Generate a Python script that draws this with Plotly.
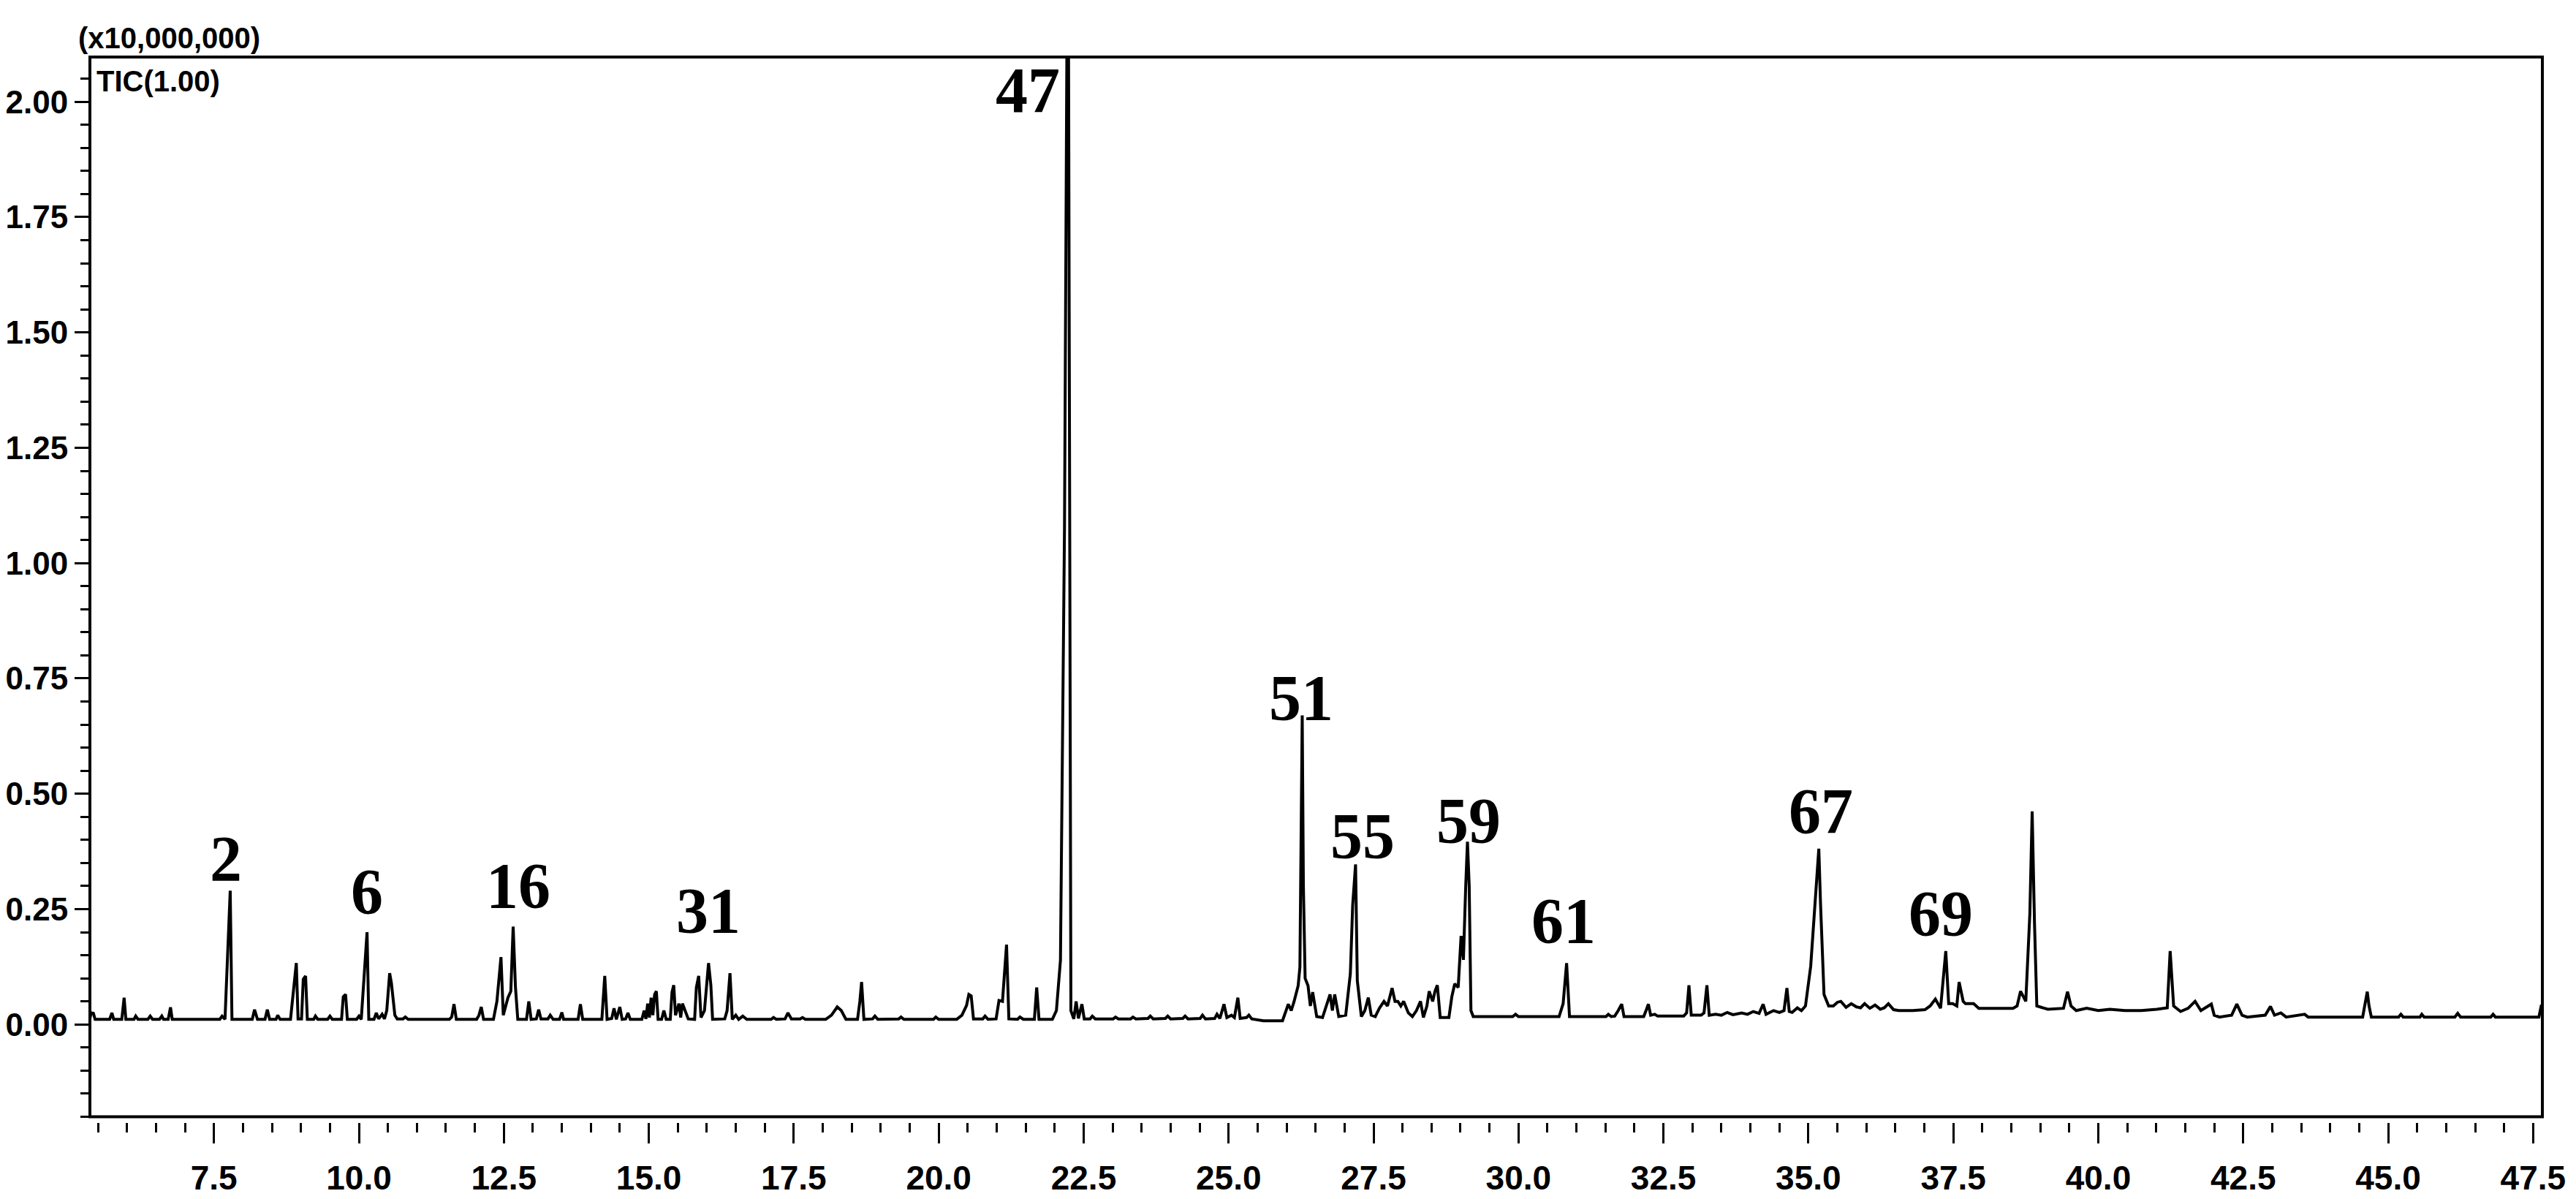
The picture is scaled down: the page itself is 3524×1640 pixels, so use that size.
import plotly.graph_objects as go

# ---- data (retention time [min], TIC intensity [x10,000,000]) ----
trace_5_to_11 = [
    (5.36, 0.012), (5.38, 0.025), (5.42, 0.024), (5.45, 0.011),
    (5.70, 0.011), (5.74, 0.025), (5.77, 0.011),
    (5.91, 0.011), (5.95, 0.058), (5.98, 0.011),
    (6.12, 0.011), (6.15, 0.018), (6.19, 0.011),
    (6.36, 0.011), (6.40, 0.018), (6.44, 0.011),
    (6.56, 0.011), (6.60, 0.018), (6.63, 0.011),
    (6.71, 0.011), (6.75, 0.037), (6.78, 0.011),
    (7.60, 0.011), (7.64, 0.018), (7.69, 0.011), (7.74, 0.19), (7.78, 0.29), (7.81, 0.011),
    (8.16, 0.011), (8.20, 0.032), (8.25, 0.011),
    (8.38, 0.011), (8.42, 0.032), (8.46, 0.011),
    (8.57, 0.011), (8.60, 0.020), (8.64, 0.011),
    (8.82, 0.011), (8.86, 0.058), (8.92, 0.133), (8.95, 0.012),
    (9.01, 0.012), (9.04, 0.098), (9.08, 0.105), (9.11, 0.011),
    (9.22, 0.011), (9.25, 0.018), (9.29, 0.011),
    (9.46, 0.011), (9.50, 0.018), (9.54, 0.011),
    (9.70, 0.011), (9.73, 0.060), (9.77, 0.065), (9.80, 0.011),
    (9.96, 0.011), (10.00, 0.018), (10.04, 0.011), (10.09, 0.105), (10.14, 0.20), (10.17, 0.011),
    (10.26, 0.011), (10.30, 0.025), (10.34, 0.012), (10.40, 0.022), (10.44, 0.012),
    (10.48, 0.030), (10.53, 0.111), (10.56, 0.090), (10.59, 0.055), (10.62, 0.020), (10.66, 0.012),
    (10.76, 0.012), (10.80, 0.016), (10.85, 0.011),
]

trace_11_to_19 = [
    (11.56, 0.011), (11.60, 0.016), (11.64, 0.044), (11.68, 0.011),
    (12.03, 0.011), (12.07, 0.020), (12.11, 0.038), (12.15, 0.011),
    (12.32, 0.011), (12.38, 0.050), (12.45, 0.146), (12.49, 0.020), (12.57, 0.058), (12.62, 0.072),
    (12.66, 0.212), (12.70, 0.080), (12.74, 0.011),
    (12.89, 0.011), (12.93, 0.050), (12.97, 0.011),
    (13.06, 0.012), (13.10, 0.032), (13.14, 0.012),
    (13.26, 0.012), (13.30, 0.020), (13.35, 0.011),
    (13.46, 0.011), (13.50, 0.026), (13.53, 0.011),
    (13.78, 0.011), (13.82, 0.044), (13.86, 0.011),
    (14.19, 0.011), (14.24, 0.105), (14.28, 0.011),
    (14.36, 0.013), (14.40, 0.035), (14.44, 0.011), (14.50, 0.038), (14.54, 0.011),
    (14.60, 0.012), (14.64, 0.025), (14.68, 0.011),
    (14.88, 0.011), (14.92, 0.030), (14.95, 0.012), (14.98, 0.045), (15.01, 0.015),
    (15.04, 0.058), (15.07, 0.020), (15.10, 0.065), (15.13, 0.072), (15.16, 0.011),
    (15.22, 0.011), (15.26, 0.030), (15.30, 0.011),
    (15.37, 0.011), (15.40, 0.070), (15.43, 0.085), (15.46, 0.020), (15.52, 0.045), (15.55, 0.015),
    (15.58, 0.045), (15.63, 0.030), (15.68, 0.012),
    (15.79, 0.011), (15.82, 0.080), (15.86, 0.105), (15.90, 0.015), (15.96, 0.030), (16.00, 0.080),
    (16.03, 0.133), (16.07, 0.085), (16.10, 0.011),
    (16.31, 0.012), (16.35, 0.030), (16.40, 0.111), (16.44, 0.011),
    (16.50, 0.020), (16.55, 0.011), (16.62, 0.018), (16.69, 0.011),
    (17.11, 0.011), (17.15, 0.015), (17.20, 0.011),
    (17.35, 0.012), (17.40, 0.025), (17.46, 0.012),
    (17.61, 0.012), (17.65, 0.015), (17.70, 0.011),
    (18.05, 0.011), (18.15, 0.020), (18.25, 0.038), (18.32, 0.030), (18.40, 0.011),
    (18.60, 0.011), (18.64, 0.050), (18.67, 0.092), (18.71, 0.011),
]

trace_19_to_26 = [
    (18.86, 0.012), (18.90, 0.018), (18.95, 0.011),
    (19.31, 0.012), (19.35, 0.016), (19.40, 0.011),
    (19.91, 0.011), (19.95, 0.016), (20.00, 0.011),
    (20.31, 0.011), (20.40, 0.020), (20.48, 0.041), (20.52, 0.065), (20.56, 0.062), (20.60, 0.012),
    (20.76, 0.012), (20.80, 0.018), (20.85, 0.011),
    (20.99, 0.012), (21.04, 0.052), (21.10, 0.050), (21.17, 0.173), (21.21, 0.012),
    (21.36, 0.011), (21.40, 0.016), (21.46, 0.011),
    (21.65, 0.011), (21.69, 0.080), (21.73, 0.011),
    (21.96, 0.011), (22.03, 0.030), (22.10, 0.139), (22.17, 1.08), (22.23, 2.60), (22.28, 0.030),
    (22.33, 0.012), (22.37, 0.050), (22.41, 0.013), (22.47, 0.044), (22.51, 0.012),
    (22.61, 0.012), (22.65, 0.018), (22.70, 0.012),
    (23.01, 0.012), (23.05, 0.016), (23.10, 0.012),
    (23.31, 0.012), (23.35, 0.016), (23.40, 0.012),
    (23.61, 0.013), (23.65, 0.018), (23.70, 0.012),
    (23.91, 0.013), (23.95, 0.018), (24.00, 0.012),
    (24.21, 0.013), (24.25, 0.018), (24.30, 0.012),
    (24.51, 0.013), (24.55, 0.020), (24.60, 0.012),
    (24.76, 0.013), (24.80, 0.022), (24.85, 0.013), (24.92, 0.044), (24.97, 0.015),
    (25.05, 0.020), (25.10, 0.015), (25.16, 0.058), (25.20, 0.013),
    (25.31, 0.015), (25.35, 0.020), (25.40, 0.012),
    (25.60, 0.008), (25.80, 0.008), (25.93, 0.008),
]

trace_26_to_29 = [
    (26.03, 0.044), (26.08, 0.030), (26.13, 0.050), (26.20, 0.084), (26.23, 0.124), (26.25, 0.47),
    (26.27, 0.67), (26.29, 0.30), (26.32, 0.100), (26.37, 0.084), (26.41, 0.040), (26.45, 0.070),
    (26.52, 0.017),
    (26.62, 0.015), (26.68, 0.040), (26.75, 0.065), (26.79, 0.030), (26.83, 0.065), (26.90, 0.017),
    (27.02, 0.020), (27.10, 0.110), (27.14, 0.258), (27.19, 0.347), (27.22, 0.095), (27.29, 0.017),
    (27.35, 0.030), (27.41, 0.058), (27.46, 0.020), (27.53, 0.017),
    (27.60, 0.035), (27.68, 0.050), (27.74, 0.040), (27.82, 0.079), (27.87, 0.050), (27.92, 0.050),
    (27.97, 0.040), (28.02, 0.050), (28.10, 0.025), (28.17, 0.017),
    (28.24, 0.030), (28.31, 0.050), (28.36, 0.015),
    (28.42, 0.040), (28.46, 0.072), (28.52, 0.050), (28.56, 0.072), (28.60, 0.085), (28.65, 0.015),
    (28.80, 0.015), (28.85, 0.060), (28.90, 0.088), (28.96, 0.080), (29.01, 0.192), (29.05, 0.140),
    (29.09, 0.300), (29.12, 0.396), (29.15, 0.300), (29.18, 0.030), (29.22, 0.017),
]

trace_29_to_35 = [
    (29.90, 0.017), (29.95, 0.022), (30.00, 0.017),
    (30.70, 0.017), (30.77, 0.045), (30.83, 0.133), (30.88, 0.017),
    (31.51, 0.017), (31.55, 0.022), (31.60, 0.017), (31.66, 0.018), (31.72, 0.030), (31.78, 0.044),
    (31.82, 0.017),
    (32.16, 0.017), (32.20, 0.030), (32.24, 0.044), (32.28, 0.020), (32.35, 0.022), (32.40, 0.018),
    (32.85, 0.018), (32.90, 0.025), (32.94, 0.085), (32.98, 0.020),
    (33.15, 0.020), (33.20, 0.025), (33.25, 0.085), (33.29, 0.020),
    (33.40, 0.022), (33.50, 0.020), (33.60, 0.026), (33.70, 0.021), (33.85, 0.025), (33.95, 0.022),
    (34.05, 0.028), (34.15, 0.024), (34.22, 0.044), (34.27, 0.022), (34.40, 0.030), (34.50, 0.026),
]

trace_35_to_48 = [
    (34.58, 0.030), (34.63, 0.079), (34.67, 0.028), (34.72, 0.026), (34.81, 0.036), (34.88, 0.030),
    (34.95, 0.040), (35.04, 0.126), (35.13, 0.306), (35.18, 0.381), (35.21, 0.260), (35.27, 0.065),
    (35.35, 0.040), (35.43, 0.040), (35.50, 0.048), (35.56, 0.050), (35.65, 0.037), (35.74, 0.045),
    (35.83, 0.038), (35.90, 0.036), (35.97, 0.045), (36.06, 0.035), (36.15, 0.042), (36.24, 0.033),
    (36.31, 0.036), (36.38, 0.045), (36.47, 0.032), (36.56, 0.030), (36.80, 0.030), (37.01, 0.032),
    (37.10, 0.040), (37.19, 0.055), (37.28, 0.035), (37.33, 0.113), (37.37, 0.159), (37.42, 0.045),
    (37.49, 0.045), (37.56, 0.040), (37.60, 0.092), (37.67, 0.050), (37.71, 0.045), (37.85, 0.045),
    (37.94, 0.035), (38.53, 0.035), (38.60, 0.040), (38.66, 0.072), (38.75, 0.050), (38.82, 0.240),
    (38.86, 0.462), (38.90, 0.220), (38.94, 0.040),
    (39.13, 0.033), (39.40, 0.035), (39.47, 0.071), (39.53, 0.040), (39.62, 0.030), (39.80, 0.035),
    (40.00, 0.030), (40.20, 0.033), (40.46, 0.030), (40.74, 0.030), (41.01, 0.033), (41.19, 0.036),
    (41.24, 0.159), (41.30, 0.040), (41.42, 0.028), (41.55, 0.035), (41.67, 0.050), (41.77, 0.030),
    (41.95, 0.044), (42.00, 0.020), (42.09, 0.016), (42.30, 0.020), (42.39, 0.044), (42.48, 0.020),
    (42.57, 0.016), (42.88, 0.020), (42.97, 0.039), (43.04, 0.020), (43.15, 0.025), (43.24, 0.016),
    (43.56, 0.022), (43.62, 0.016),
    (44.56, 0.016), (44.60, 0.040), (44.64, 0.071), (44.67, 0.040), (44.71, 0.016),
    (45.18, 0.016), (45.22, 0.022), (45.26, 0.016),
    (45.55, 0.016), (45.58, 0.022), (45.62, 0.016),
    (46.15, 0.016), (46.20, 0.024), (46.25, 0.016),
    (46.77, 0.016), (46.81, 0.022), (46.85, 0.016),
    (47.60, 0.016), (47.64, 0.040), (47.66, 0.040),
]

peak_numbers = ["2", "6", "16", "31", "47", "51", "55", "59", "61", "67", "69"]
peak_label_rt = [7.70, 10.14, 12.75, 16.03, 21.53, 26.25, 27.31, 29.14, 30.78, 35.21, 37.28]
peak_label_y = [0.360, 0.288, 0.301, 0.247, 2.025, 0.708, 0.409, 0.441, 0.225, 0.463, 0.241]

x_range = [5.36, 47.66]
y_range = [-0.212, 2.097]
frame_bottom = -0.20

# ---- build figure ----
segments = [trace_5_to_11, trace_11_to_19, trace_19_to_26, trace_26_to_29, trace_29_to_35, trace_35_to_48]
rt = [p[0] for seg in segments for p in seg]
tic = [p[1] for seg in segments for p in seg]

W, H = 3524, 1640
ML, MR, MT, MB = 115, 54, 70, 113
plot_w = W - ML - MR
plot_h = H - MT - MB

def px_to_paper_x(px):
    return (px - ML) / plot_w

def px_to_paper_y(py):
    return (H - MB - py) / plot_h

def val_to_paper_y(v):
    return (v - y_range[0]) / (y_range[1] - y_range[0])

FAMILY = "Liberation Sans Narrow, Liberation Sans, Arial, sans-serif"
X_TICK_FONT = dict(family=FAMILY, size=46, color="black", weight="bold")
Y_TICK_FONT = dict(family=FAMILY, size=44, color="black", weight="bold")
HEAD_FONT = dict(family=FAMILY, size=40, color="black", weight="bold")
LABEL_FONT = dict(family="Liberation Serif, Times New Roman, DejaVu Serif, serif",
                  size=88, color="black", weight="bold")

fig = go.Figure()
fig.add_trace(go.Scatter(x=rt, y=tic, mode="lines",
                         line=dict(color="black", width=4),
                         hoverinfo="skip", showlegend=False))

annotations = []
for lab, xr, yv in zip(peak_numbers, peak_label_rt, peak_label_y):
    annotations.append(dict(x=xr, y=yv, xref="x", yref="y", text=lab, showarrow=False,
                            xanchor="center", yanchor="middle", font=LABEL_FONT))

annotations.append(dict(x=px_to_paper_x(97), y=px_to_paper_y(44), xref="paper", yref="paper",
                        text="(x10,000,000)", showarrow=False, xanchor="left", yanchor="middle",
                        font=HEAD_FONT))
annotations.append(dict(x=px_to_paper_x(122), y=px_to_paper_y(103), xref="paper", yref="paper",
                        text="TIC(1.00)", showarrow=False, xanchor="left", yanchor="middle",
                        font=HEAD_FONT))

fig.update_layout(
    template="none",
    width=W, height=H,
    margin=dict(l=ML, r=MR, t=MT, b=MB, pad=0, autoexpand=False),
    paper_bgcolor="white", plot_bgcolor="white",
    showlegend=False,
    annotations=annotations,
    shapes=[dict(type="rect", xref="paper", yref="paper",
                 x0=0, x1=1, y0=val_to_paper_y(frame_bottom), y1=1,
                 line=dict(color="black", width=4), fillcolor="rgba(0,0,0,0)", layer="above")],
    xaxis=dict(range=x_range, showgrid=False, zeroline=False, showline=False, automargin=False,
               ticks="outside", tick0=0, dtick=2.5, ticklen=28, tickwidth=3, tickcolor="black",
               tickformat=".1f", tickfont=X_TICK_FONT, ticklabelstandoff=8,
               minor=dict(ticks="outside", tick0=0, dtick=0.5, ticklen=13, tickwidth=3,
                          tickcolor="black", showgrid=False)),
    yaxis=dict(range=y_range, showgrid=False, zeroline=False, showline=False, automargin=False,
               ticks="outside", tick0=0, dtick=0.25, ticklen=20, tickwidth=3, tickcolor="black",
               tickformat=".2f", tickfont=Y_TICK_FONT, ticklabelstandoff=0,
               minor=dict(ticks="outside", tick0=0, dtick=0.05, ticklen=12, tickwidth=3,
                          tickcolor="black", showgrid=False)),
)

fig.write_html("out.html")
